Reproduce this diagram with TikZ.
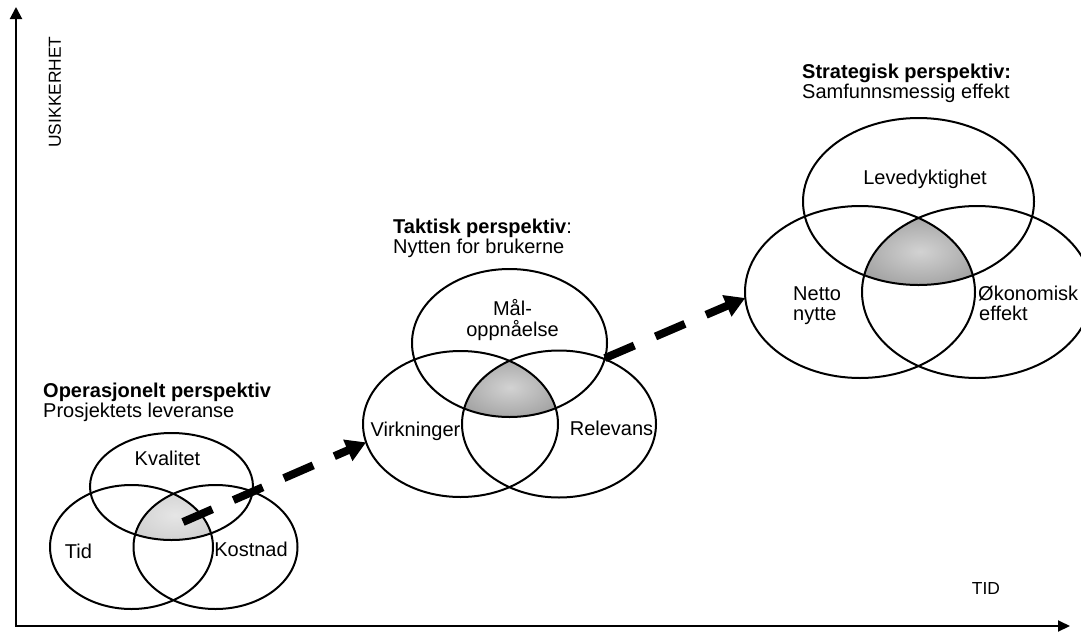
\documentclass[tikz,border=0pt]{standalone}
\usepackage{fontspec}
\setmainfont{Liberation Sans}
\usetikzlibrary{shapes.geometric,arrows.meta}
\begin{document}
\begin{tikzpicture}[x=1pt,y=-1pt,
  venn/.style={draw, shape=ellipse, line width=2pt, inner sep=0pt, outer sep=0pt},
  lbl/.style={inner sep=0pt, font=\fontsize{20}{24}\selectfont},
  head/.style={inner sep=0pt, anchor=base west, font=\fontsize{20}{24}\selectfont\bfseries},
  sub/.style={inner sep=0pt, anchor=base west, font=\fontsize{20}{24}\selectfont},
  axislbl/.style={inner sep=0pt, font=\fontsize{17.4}{20}\selectfont},
  axis/.style={line width=2pt, {Triangle[length=12pt,width=12pt]}-{Triangle[length=12pt,width=11pt]}},
  flow/.style={line width=8pt, dash pattern=on 32pt off 23pt, -{Triangle[length=20pt,width=22pt]}},
]
\useasboundingbox (0,0) rectangle (1081,632);
\clip (0,0) rectangle (1081,632);

% shaded common area of each triple
\begin{scope}
  \clip (171.5,486.5) ellipse [x radius=81.5pt, y radius=53.5pt];
  \clip (131.5,547) ellipse [x radius=81.5pt, y radius=62pt];
  \clip (215.5,547) ellipse [x radius=82pt, y radius=62pt];
  \shade[inner color=gray!20, outer color=gray!38] (125,485) rectangle (225,545);
\end{scope}
\begin{scope}
  \clip (509.5,343) ellipse [x radius=97.5pt, y radius=74pt];
  \clip (460.5,424) ellipse [x radius=97.5pt, y radius=73pt];
  \clip (559,424) ellipse [x radius=97pt, y radius=73.5pt];
  \shade[inner color=gray!35, outer color=gray!72] (455,355) rectangle (565,420);
\end{scope}
\begin{scope}
  \clip (918.5,201.5) ellipse [x radius=115.5pt, y radius=83.5pt];
  \clip (860,292) ellipse [x radius=115pt, y radius=86pt];
  \clip (977,292) ellipse [x radius=115pt, y radius=86pt];
  \shade[inner color=gray!35, outer color=gray!72] (855,215) rectangle (985,288);
\end{scope}

% operational circles
\node[venn, minimum width=163pt, minimum height=107pt] (kval) at (171.5,486.5) {};
\node[venn, minimum width=163pt, minimum height=124pt] (tid) at (131.5,547) {};
\node[venn, minimum width=164pt, minimum height=124pt] (kost) at (215.5,547) {};
% tactical circles
\node[venn, minimum width=195pt, minimum height=148pt] (maal) at (509.5,343) {};
\node[venn, minimum width=195pt, minimum height=146pt] (virk) at (460.5,424) {};
\node[venn, minimum width=194pt, minimum height=147pt] (relev) at (559,424) {};
% strategic circles
\node[venn, minimum width=231pt, minimum height=167pt] (leve) at (918.5,201.5) {};
\node[venn, minimum width=230pt, minimum height=172pt] (netto) at (860,292) {};
\node[venn, minimum width=230pt, minimum height=172pt] (okon) at (977,292) {};

% axes
\coordinate (ytop) at (16,7);
\coordinate (origin) at (16,626);
\coordinate (xend) at (1070,626);
\draw[axis] (ytop) -- (origin) -- (xend);
\node[axislbl, rotate=90] (unc) at (55,92) {USIKKERHET};
\node[axislbl] (time) at (986,589) {TID};

% dashed progression arrows
\coordinate (start) at (183,522);
\draw[flow] (start) -- (virk.191);
\draw[flow] (maal.-9) -- (netto.183);

% headings
\node[head] (h1) at (43,397) {Operasjonelt perspektiv};
\node[sub] (s1) at (43,417) {Prosjektets leveranse};
\node[head] (h2) at (393,233) {Taktisk perspektiv\mdseries:};
\node[sub] (s2) at (393,253) {Nytten for brukerne};
\node[head] (h3) at (802,78) {Strategisk perspektiv:};
\node[sub] (s3) at (802,98) {Samfunnsmessig effekt};

% circle labels
\node[lbl, anchor=base] (tkval) at (167.5,465) {Kvalitet};
\node[lbl, anchor=base] (ttid) at (78.5,558) {Tid};
\node[lbl, anchor=base] (tkost) at (251,556) {Kostnad};
\node[lbl, anchor=base] (tmaal1) at (512.5,315) {Mål-};
\node[lbl, anchor=base] (tmaal2) at (512.5,336) {oppnåelse};
\node[lbl, anchor=base] (tvirk) at (415.5,436) {Virkninger};
\node[lbl, anchor=base] (trel) at (611.5,435) {Relevans};
\node[lbl, anchor=base] (tleve) at (925,184) {Levedyktighet};
\node[lbl, anchor=base west] (tnet1) at (793,300) {Netto};
\node[lbl, anchor=base west] (tnet2) at (793,320) {nytte};
\node[lbl, anchor=base west] (tok1) at (978,300) {Økonomisk};
\node[lbl, anchor=base west] (tok2) at (979,320) {effekt};
\end{tikzpicture}
\end{document}
